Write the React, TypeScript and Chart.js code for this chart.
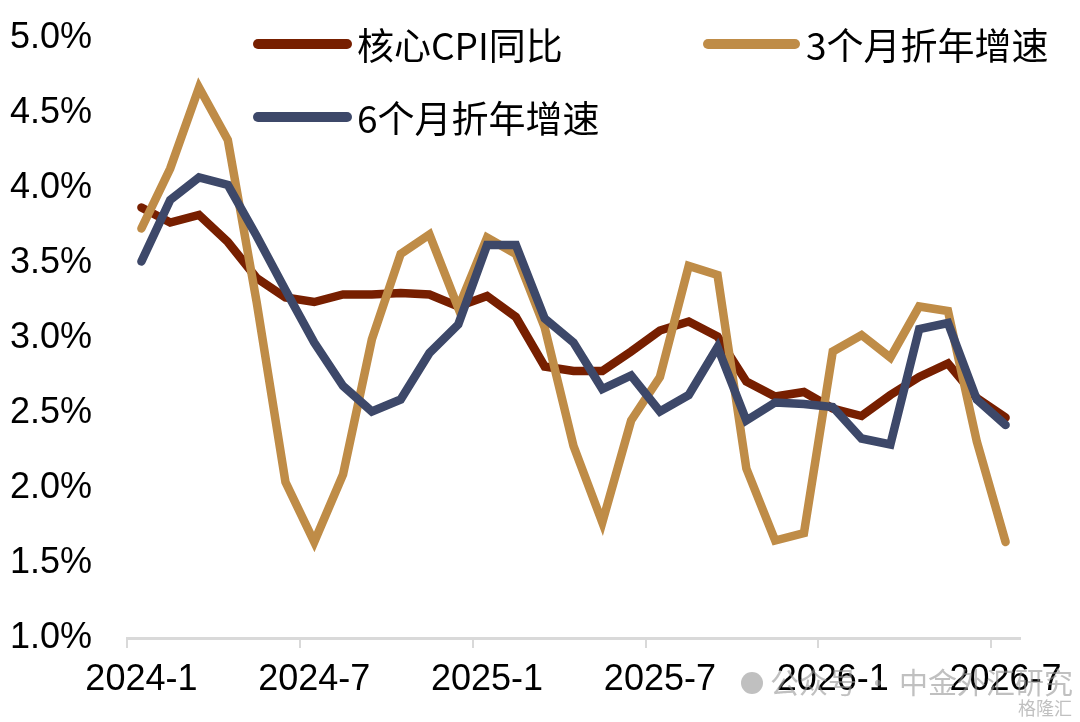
import React, { useEffect, useRef } from "react";
import { Chart, registerables } from "chart.js";

Chart.register(...registerables);

const months: string[] = [
  "2024-1", "2024-2", "2024-3", "2024-4", "2024-5", "2024-6",
  "2024-7", "2024-8", "2024-9", "2024-10", "2024-11", "2024-12",
  "2025-1", "2025-2", "2025-3", "2025-4", "2025-5", "2025-6",
  "2025-7", "2025-8", "2025-9", "2025-10", "2025-11", "2025-12",
  "2026-1", "2026-2", "2026-3", "2026-4", "2026-5", "2026-6",
  "2026-7",
];

const shownTickLabels: string[] = ["2024-1", "2024-7", "2025-1", "2025-7", "2026-1", "2026-7"];

const coreCpiYoy: number[] = [
  3.87, 3.77, 3.82, 3.64, 3.40, 3.27, 3.24, 3.29, 3.29, 3.30, 3.29, 3.21,
  3.28, 3.14, 2.81, 2.78, 2.78, 2.91, 3.05, 3.11, 3.01, 2.71, 2.61, 2.64,
  2.53, 2.48, 2.62, 2.74, 2.83, 2.60, 2.47,
];

const threeMonthAnnualized: number[] = [
  3.73, 4.13, 4.67, 4.32, 3.24, 2.04, 1.64, 2.09, 2.99, 3.56, 3.69, 3.20,
  3.67, 3.56, 3.07, 2.28, 1.77, 2.45, 2.74, 3.48, 3.42, 2.13, 1.65, 1.70,
  2.91, 3.02, 2.87, 3.21, 3.18, 2.31, 1.64,
];

const sixMonthAnnualized: number[] = [
  3.51, 3.92, 4.07, 4.02, 3.68, 3.32, 2.97, 2.68, 2.51, 2.59, 2.90, 3.09,
  3.62, 3.62, 3.13, 2.97, 2.66, 2.75, 2.51, 2.62, 2.94, 2.45, 2.57, 2.56,
  2.54, 2.33, 2.29, 3.06, 3.10, 2.59, 2.42,
];

const seriesNames: string[] = ["核心CPI同比", "3个月折年增速", "6个月折年增速"];
const seriesColors: string[] = ["#771F00", "#BF8C47", "#3D4869"];

const yTicks = { min: 1.0, max: 5.0, step: 0.5 };

const CJK = '"Noto Sans CJK SC", "Noto Sans", sans-serif';
const LATIN = '"Liberation Sans", Arial, sans-serif';

const legendPlugin = {
  id: "customLegend",
  afterDatasetsDraw(chart: any) {
    const ctx = chart.ctx as CanvasRenderingContext2D;
    const items = [
      { x1: 258, x2: 347, y: 44, tx: 357, ty: 46 },
      { x1: 708, x2: 795, y: 44, tx: 806, ty: 46 },
      { x1: 258, x2: 347, y: 117, tx: 357, ty: 119 },
    ];
    ctx.save();
    items.forEach((it, i) => {
      ctx.beginPath();
      ctx.lineCap = "round";
      ctx.lineWidth = 10;
      ctx.strokeStyle = seriesColors[i];
      ctx.moveTo(it.x1, it.y);
      ctx.lineTo(it.x2, it.y);
      ctx.stroke();
      ctx.fillStyle = "#000";
      ctx.font = `37px ${CJK}`;
      ctx.textBaseline = "middle";
      ctx.textAlign = "left";
      ctx.fillText(seriesNames[i], it.tx, it.ty);
    });
    ctx.restore();
  },
  afterDraw(chart: any) {
    const ctx = chart.ctx as CanvasRenderingContext2D;
    ctx.save();
    ctx.fillStyle = "rgba(150,150,150,0.6)";
    ctx.font = `29px ${CJK}`;
    ctx.textBaseline = "middle";
    ctx.textAlign = "left";
    ctx.fillText("公众号 · 中金外汇研究", 770, 683);
    ctx.beginPath();
    ctx.arc(752, 683, 11, 0, Math.PI * 2);
    ctx.fill();
    ctx.font = `18px ${CJK}`;
    ctx.fillText("格隆汇", 1018, 708);
    ctx.restore();
  },
};

export default function App() {
  const canvasRef = useRef<HTMLCanvasElement | null>(null);

  useEffect(() => {
    document.body.style.margin = "0";
    const canvas = canvasRef.current;
    if (!canvas) return;
    const mk = (i: number, data: number[], order: number) => ({
      label: seriesNames[i],
      data,
      borderColor: seriesColors[i],
      backgroundColor: seriesColors[i],
      borderWidth: 8.5,
      pointRadius: 0,
      tension: 0,
      borderJoinStyle: "miter" as const,
      borderCapStyle: "round" as const,
      order,
    });
    const chart = new Chart(canvas, {
      type: "line",
      data: {
        labels: months,
        datasets: [
          mk(0, coreCpiYoy, 3),
          mk(1, threeMonthAnnualized, 2),
          mk(2, sixMonthAnnualized, 1),
        ],
      },
      options: {
        responsive: false,
        animation: false,
        devicePixelRatio: 1,
        layout: { padding: { top: 38, right: 60, left: 0, bottom: 0 } },
        plugins: {
          legend: { display: false },
          tooltip: { enabled: false },
        },
        scales: {
          x: {
            type: "category",
            offset: true,
            grid: {
              display: true,
              offset: true,
              drawOnChartArea: false,
              drawTicks: true,
              tickLength: 10,
              lineWidth: 2,
              color: (c: any) =>
                c.index !== undefined && c.index % 6 === 0 ? "#D9D9D9" : "rgba(0,0,0,0)",
            },
            border: { display: true, color: "#D9D9D9", width: 3 },
            ticks: {
              autoSkip: false,
              maxRotation: 0,
              minRotation: 0,
              padding: 10,
              color: "#000",
              font: { family: LATIN, size: 36 },
              callback: (_v: any, i: number) =>
                shownTickLabels.includes(months[i]) ? months[i] : "",
            },
            afterFit: (s: any) => {
              s.height = 84;
            },
          },
          y: {
            type: "linear",
            min: yTicks.min,
            max: yTicks.max,
            grid: {
              display: true,
              drawOnChartArea: false,
              drawTicks: true,
              tickLength: 35,
              color: "rgba(0,0,0,0)",
            },
            border: { display: false },
            ticks: {
              stepSize: yTicks.step,
              padding: 0,
              color: "#000",
              font: { family: LATIN, size: 36 },
              callback: (v: any) => Number(v).toFixed(1) + "%",
            },
            afterFit: (s: any) => {
              s.width = 127;
            },
          },
        },
      },
      plugins: [legendPlugin],
    });
    return () => chart.destroy();
  }, []);

  return (
    <div style={{ position: "absolute", left: 0, top: 0, width: 1080, height: 722, background: "#fff" }}>
      <canvas ref={canvasRef} width={1080} height={722} style={{ width: 1080, height: 722 }} />
    </div>
  );
}
